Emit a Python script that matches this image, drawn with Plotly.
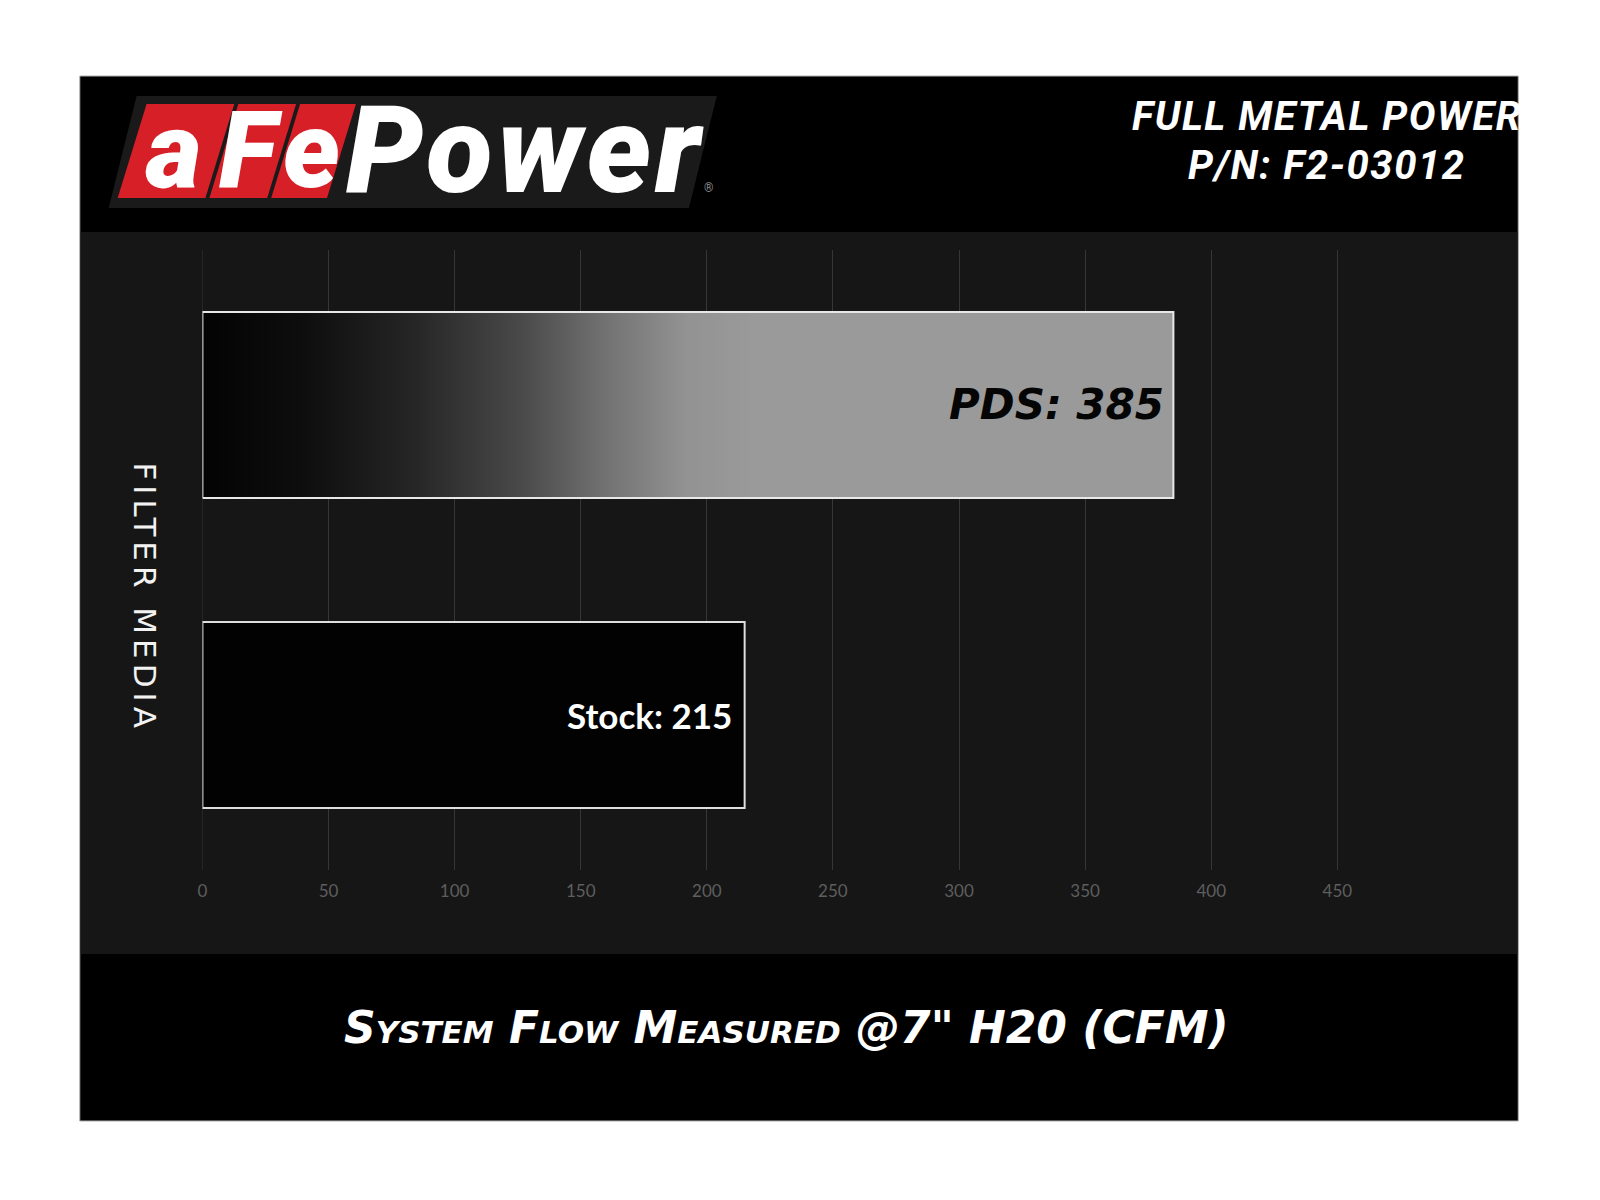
import plotly.graph_objects as go

# ---------------- data ----------------
categories = ["Stock", "PDS"]
flow_cfm = [215, 385]
x_ticks = [0, 50, 100, 150, 200, 250, 300, 350, 400, 450]
brand_letters = ["a", "F", "e"]
brand_word = "Power"
header_lines = ["FULL METAL POWER", "P/N: F2-03012"]
x_title = 'System Flow Measured @7" H20 (CFM)'
y_title = "FILTER MEDIA"

# page body has an 8px margin; size the figure so it fits the 1600x1200 window
OFF = 8
W, H = 1600 - OFF, 1200 - OFF


def px(x):
    return (x - OFF) / W


def py(y):
    return 1 - (y - OFF) / H


fig = go.Figure()
pos = list(range(len(categories)))
half = 0.3

# Stock bar (plain black with light outline)
fig.add_trace(go.Bar(
    x=[flow_cfm[0]], y=[pos[0]], orientation="h", width=2 * half,
    marker=dict(color="#020202", line=dict(color="#dedede", width=2)),
    name=categories[0], showlegend=False,
))

# PDS bar (horizontal gradient fill)
v, c = flow_cfm[1], pos[1]
fig.add_trace(go.Scatter(
    x=[0, v, v, 0, 0], y=[c - half, c - half, c + half, c + half, c - half],
    mode="lines", fill="toself",
    fillgradient=dict(type="horizontal", colorscale=[
        [0.0, "#030303"], [0.1, "#0d0d0d"], [0.22, "#262626"], [0.33, "#4a4a4a"],
        [0.42, "#747474"], [0.5, "#939393"], [0.57, "#9a9a9a"], [1.0, "#9a9a9a"]]),
    line=dict(color="#e8e8e8", width=2),
    name=categories[1], showlegend=False, hoveron="fills",
))

annotations = []
# bar labels
annotations.append(dict(
    x=flow_cfm[0], y=pos[0], xref="x", yref="y", xanchor="right", yanchor="middle",
    xshift=-11, text=f"{categories[0]}: {flow_cfm[0]}", showarrow=False,
    font=dict(family="Lato", size=35, color="white", weight="bold")))
annotations.append(dict(
    x=flow_cfm[1], y=pos[1], xref="x", yref="y", xanchor="right", yanchor="middle",
    xshift=-7, text=f"{categories[1]}: {flow_cfm[1]}", showarrow=False,
    font=dict(family="DejaVu Sans", size=42, color="#050505", weight="bold", style="italic")))

# axis titles
annotations.append(dict(
    x=px(140), y=py(597), xref="paper", yref="paper",
    text=f'<span style="letter-spacing:5px">{y_title}</span>', textangle=90,
    showarrow=False, xanchor="center", yanchor="middle",
    font=dict(family="DejaVu Sans", size=31, color="#f2f2f2")))
annotations.append(dict(
    x=px(784), y=py(1027), xref="paper", yref="paper", text=x_title,
    showarrow=False, xanchor="center", yanchor="middle",
    font=dict(family="DejaVu Sans", size=44, color="white", weight="bold",
              style="italic", variant="small-caps")))

# header text
for i, line in enumerate(header_lines):
    annotations.append(dict(
        x=px(1326), y=py(116 + 49 * i), xref="paper", yref="paper",
        text=f'<span style="letter-spacing:1.5px">{line}</span>',
        showarrow=False, xanchor="center", yanchor="middle",
        font=dict(family="Roboto", size=40, color="white", weight="bold", style="italic")))

shapes = []
# outer black frame
shapes.append(dict(type="rect", xref="paper", yref="paper", x0=px(75), x1=px(1518),
                   y0=py(1121), y1=py(76), fillcolor="black",
                   line=dict(color="#b0b0b0", width=1), layer="below"))
# textured chart panel
shapes.append(dict(type="rect", xref="paper", yref="paper", x0=px(76), x1=px(1517),
                   y0=py(954), y1=py(232), fillcolor="#161616", line=dict(width=0),
                   layer="below"))
# gridline at the axis origin (plotly skips the edge gridline)
shapes.append(dict(type="line", xref="x", yref="y domain", x0=x_ticks[0], x1=x_ticks[0],
                   y0=0, y1=1, line=dict(color="#363636", width=1), layer="below"))


def para(x0b, x1b, yt, yb, skew):
    pts = [(x0b, yb), (x1b, yb), (x1b + skew, yt), (x0b + skew, yt)]
    return "M " + " L ".join(f"{px(a):.5f},{py(b):.5f}" for a, b in pts) + " Z"


# logo backing
shapes.append(dict(type="path", xref="paper", yref="paper",
                   path=para(104, 686, 96, 208, 28), fillcolor="#1a1a1a",
                   line=dict(width=0), layer="below"))
boxes = [(113, 201), (205, 263), (267, 323)]
skew = 29
for (b0, b1), letter in zip(boxes, brand_letters):
    shapes.append(dict(type="path", xref="paper", yref="paper",
                       path=para(b0, b1, 104, 198, skew), fillcolor="#d71f27",
                       line=dict(width=0), layer="below"))
    annotations.append(dict(
        x=px((b0 + b1) / 2 + skew / 2 - 2), y=py(150), xref="paper", yref="paper",
        text=letter, showarrow=False, xanchor="center", yanchor="middle",
        font=dict(family="Roboto", size=108, color="white", weight=900, style="italic")))
annotations.append(dict(
    x=px(340), y=py(150), xref="paper", yref="paper",
    text=(f'<span style="letter-spacing:4px">{brand_word}</span>'
          '<span style="font-size:12px;color:#888888;font-weight:normal;'
          'font-style:normal;letter-spacing:0px">®</span>'),
    showarrow=False, xanchor="left", yanchor="middle",
    font=dict(family="Roboto", size=122, color="white", weight=900, style="italic")))

fig.update_layout(
    width=W, height=H, margin=dict(l=0, r=0, t=0, b=0),
    paper_bgcolor="white", plot_bgcolor="rgba(0,0,0,0)",
    showlegend=False, shapes=shapes, annotations=annotations,
    xaxis=dict(domain=[px(198), px(198 + 1265)], range=[0, 500], tickvals=x_ticks,
               showgrid=True, gridcolor="#363636", gridwidth=1, zeroline=False,
               showline=False, ticks="", ticklabelstandoff=9,
               tickfont=dict(family="Lato", size=17, color="#5e5e5e"), fixedrange=True),
    yaxis=dict(domain=[py(870), py(250)], range=[-0.5, 1.5], showticklabels=False,
               showgrid=False, zeroline=False, fixedrange=True),
)

fig.write_html("out.html")
